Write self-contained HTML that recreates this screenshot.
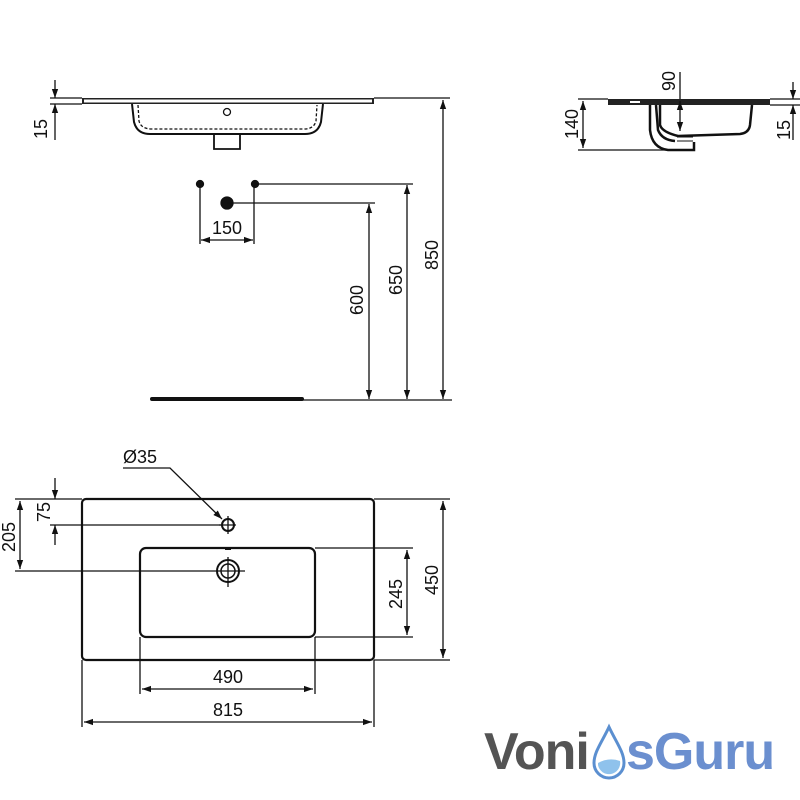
<!DOCTYPE html>
<html><head><meta charset="utf-8"><style>
html,body{margin:0;padding:0;background:#fff;width:800px;height:800px;overflow:hidden}
svg text{font-family:"Liberation Sans",sans-serif;font-size:18px;fill:#111}
</style></head><body>
<svg width="800" height="800" viewBox="0 0 800 800" xmlns="http://www.w3.org/2000/svg">
<defs>
<marker id="a" viewBox="0 0 10 10" refX="10" refY="5" markerWidth="9" markerHeight="9" orient="auto-start-reverse" markerUnits="userSpaceOnUse"><path d="M0,1.5 L10,5 L0,8.5 z" fill="#111"/></marker>
</defs>
<g stroke="#111" fill="none" stroke-width="1.3">
<rect x="82" y="98" width="292" height="6" fill="#222" stroke="none"/>
<rect x="84" y="99.5" width="288" height="3" fill="#fff" stroke="none"/>
<path d="M132,104 L134,122 Q137,134 150,134 L305,134 Q318,134 321,122 L323,104" stroke-width="2"/>
<path d="M138,105 L139,121 Q141,129 152,129 L304,129 Q314,129 316,121 L317,105" stroke-dasharray="3,2"/>
<path d="M214,134 L214,149 L240,149 L240,134" stroke-width="1.8"/>
<circle cx="227" cy="112" r="3.5"/>
<line x1="50" y1="98" x2="82" y2="98"/><line x1="50" y1="104" x2="82" y2="104"/>
<line x1="55" y1="80" x2="55" y2="98" marker-end="url(#a)"/>
<line x1="55" y1="140" x2="55" y2="104" marker-end="url(#a)"/>
<line x1="374" y1="98" x2="450" y2="98"/>
<line x1="443" y1="100" x2="443" y2="399" marker-start="url(#a)" marker-end="url(#a)"/>
<circle cx="200" cy="184" r="3.5" fill="#111"/><circle cx="255" cy="184" r="3.5" fill="#111"/><circle cx="227" cy="203" r="6" fill="#111"/>
<line x1="200" y1="184" x2="200" y2="244"/><line x1="254" y1="184" x2="254" y2="244"/>
<line x1="201" y1="240" x2="253" y2="240" marker-start="url(#a)" marker-end="url(#a)"/>
<line x1="255" y1="184" x2="413" y2="184"/>
<line x1="407" y1="185" x2="407" y2="399" marker-start="url(#a)" marker-end="url(#a)"/>
<line x1="227" y1="203" x2="375" y2="203"/>
<line x1="369" y1="204" x2="369" y2="399" marker-start="url(#a)" marker-end="url(#a)"/>
<line x1="152" y1="399" x2="302" y2="399" stroke-width="4" stroke-linecap="round"/>
<line x1="300" y1="400" x2="452" y2="400"/>
<rect x="608" y="99" width="162" height="6" fill="#222" stroke="none"/>
<rect x="630" y="101" width="10" height="2" fill="#fff" stroke="none"/>
<path d="M650,105 L650,130 Q652,148 668,150 L694,150 L694,142" stroke-width="2.5"/>
<path d="M656,105 L658,130 Q662,140 675,141" stroke-width="2.5"/>
<path d="M660,105 L660,125 Q662,132 678,136 L740,134 Q749,133 750,125 L752,105" stroke-width="2.5"/>
<path d="M677,137 L693,137 M677,141 L693,141" stroke-width="1"/>
<line x1="578" y1="99" x2="608" y2="99"/><line x1="578" y1="150" x2="668" y2="150"/>
<line x1="583" y1="101" x2="583" y2="148" marker-start="url(#a)" marker-end="url(#a)"/>
<line x1="680" y1="72" x2="680" y2="99"/>
<line x1="680" y1="101" x2="680" y2="131" marker-start="url(#a)" marker-end="url(#a)"/>
<line x1="770" y1="99" x2="800" y2="99"/><line x1="770" y1="105" x2="800" y2="105"/>
<line x1="793" y1="82" x2="793" y2="99" marker-end="url(#a)"/>
<line x1="793" y1="140" x2="793" y2="105" marker-end="url(#a)"/>
<rect x="82" y="499" width="292" height="161" rx="4" stroke-width="2.2"/>
<rect x="140" y="548" width="175" height="89" rx="6" stroke-width="2.2"/>
<circle cx="228" cy="525" r="6" stroke-width="2"/>
<line x1="228" y1="516" x2="228" y2="534"/><line x1="219" y1="525" x2="236" y2="525"/>
<circle cx="228" cy="571" r="11" stroke-width="2"/><circle cx="228" cy="571" r="7" stroke-width="1.5"/>
<line x1="228" y1="557" x2="228" y2="587"/><line x1="225" y1="571" x2="245" y2="571"/>
<line x1="225" y1="549" x2="231" y2="549" stroke-width="2"/>
<line x1="15" y1="499" x2="82" y2="499"/><line x1="15" y1="571" x2="225" y2="571"/>
<line x1="20" y1="501" x2="20" y2="569" marker-start="url(#a)" marker-end="url(#a)"/>
<line x1="50" y1="525" x2="222" y2="525"/>
<line x1="55" y1="478" x2="55" y2="499" marker-end="url(#a)"/>
<line x1="55" y1="545" x2="55" y2="525" marker-end="url(#a)"/>
<polyline points="123,468 170,468 222,519" marker-end="url(#a)"/>
<line x1="315" y1="548" x2="413" y2="548"/><line x1="315" y1="637" x2="413" y2="637"/>
<line x1="407" y1="550" x2="407" y2="635" marker-start="url(#a)" marker-end="url(#a)"/>
<line x1="374" y1="499" x2="450" y2="499"/><line x1="374" y1="660" x2="450" y2="660"/>
<line x1="443" y1="501" x2="443" y2="658" marker-start="url(#a)" marker-end="url(#a)"/>
<line x1="140" y1="637" x2="140" y2="694"/><line x1="315" y1="637" x2="315" y2="694"/>
<line x1="142" y1="689" x2="313" y2="689" marker-start="url(#a)" marker-end="url(#a)"/>
<line x1="82" y1="660" x2="82" y2="727"/><line x1="374" y1="660" x2="374" y2="727"/>
<line x1="84" y1="722" x2="372" y2="722" marker-start="url(#a)" marker-end="url(#a)"/>
</g>
<text transform="translate(47,129) rotate(-90)" text-anchor="middle">15</text>
<text transform="translate(438,255) rotate(-90)" text-anchor="middle">850</text>
<text x="227" y="234" text-anchor="middle">150</text>
<text transform="translate(402,280) rotate(-90)" text-anchor="middle">650</text>
<text transform="translate(363,300) rotate(-90)" text-anchor="middle">600</text>
<text transform="translate(578,124) rotate(-90)" text-anchor="middle">140</text>
<text transform="translate(675,81) rotate(-90)" text-anchor="middle">90</text>
<text transform="translate(790,130) rotate(-90)" text-anchor="middle">15</text>
<text transform="translate(15,537) rotate(-90)" text-anchor="middle">205</text>
<text transform="translate(50,512) rotate(-90)" text-anchor="middle">75</text>
<text x="140" y="463" text-anchor="middle">Ø35</text>
<text transform="translate(402,594) rotate(-90)" text-anchor="middle">245</text>
<text transform="translate(438,580) rotate(-90)" text-anchor="middle">450</text>
<text x="228" y="683" text-anchor="middle">490</text>
<text x="228" y="716" text-anchor="middle">815</text>
<text x="484" y="769" style="font-size:52px;font-weight:bold;fill:#545454;letter-spacing:-1px">Voni</text>
<path d="M609,727 C602,742 594,752 594,763 A15,15 0 0 0 624,763 C624,752 616,742 609,727 Z" fill="#fff" stroke="#5b8fd0" stroke-width="3"/>
<path d="M598,763 Q609,757 620,761 A11,11 0 0 1 598,765 Z" fill="#8fc2ec"/>
<text x="626" y="769" style="font-size:52px;font-weight:bold;fill:#6b8fcf;letter-spacing:-1px">sGuru</text>
</svg>
</body></html>
